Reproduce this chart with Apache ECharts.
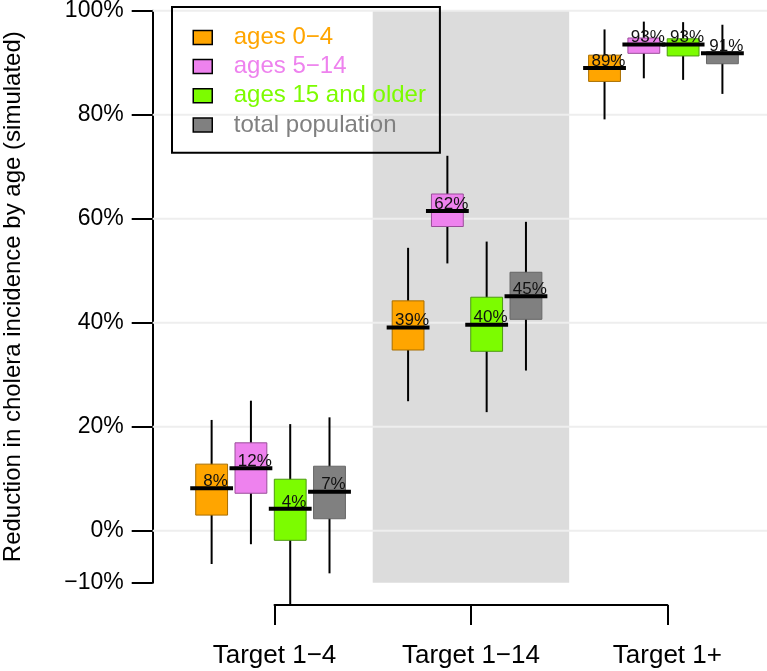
<!DOCTYPE html>
<html><head><meta charset="utf-8">
<script src="https://cdn.jsdelivr.net/npm/echarts@6/dist/echarts.min.js"></script>
<style>html,body{margin:0;padding:0;background:#fff}#c{width:767px;height:671px}</style>
</head><body><div id="c"></div>
<script>
// ---------------- data ----------------
const groups = ['Target 1\u22124', 'Target 1\u221214', 'Target 1+'];
const seriesNames = ['ages 0\u22124', 'ages 5\u221214', 'ages 15 and older', 'total population'];
const yTicks = [-10, 0, 20, 40, 60, 80, 100];
const gridValues = [0, 20, 40, 60, 80, 100];
const highlightedGroup = 1;
// per group: [lower whisker, Q1, median, Q3, upper whisker]  (percent)
const ages0to4   = [[-6.4, 3.0, 8.15, 12.8, 21.3], [24.9, 34.75, 39.1, 44.2, 54.4], [79.1, 86.4, 89.0, 91.45, 96.4]];
const ages5to14  = [[-2.6, 7.2, 12.0, 16.9, 25.0], [51.4, 58.5, 61.5, 64.75, 72.1], [87.0, 91.8, 93.5, 94.75, 97.9]];
const ages15plus = [[-14.3, -1.85, 4.2, 9.9, 20.5], [22.8, 34.5, 39.6, 44.9, 55.6], [86.7, 91.3, 93.5, 94.6, 97.8]];
const totalPop   = [[-8.2, 2.3, 7.5, 12.4, 21.8], [30.8, 40.65, 45.1, 49.7, 59.4], [84.0, 89.8, 91.8, 92.1, 97.3]];
const labels0to4   = ['8%', '39%', '89%'];
const labels5to14  = ['12%', '62%', '93%'];
const labels15plus = ['4%', '40%', '93%'];
const labelsTotal  = ['7%', '45%', '91%'];

// ---------------- styling / layout ----------------
const FONT = 'Liberation Sans, Arial, Helvetica, sans-serif';
const fills   = ['#FFA500', '#EE82EE', '#7CFC00', '#808080'];
const borders = ['#A86E00', '#9A4E9A', '#4C9A10', '#666666'];
const textCols = ['#FFA500', '#EE82EE', '#7CFC00', '#808080'];
const W = 767, L = 152.7, T = 10.7, B = 88.3;
const X0 = -0.5, X1 = 15.135;
const unit = (W - L) / (X1 - X0);
const GROUP_STEP = 5, LABEL_DX = 0.1, BOX_W = 0.81, MED_W = 1.09;
const axis2Left = L + (1 + 1.5 + LABEL_DX - X0) * unit;
const axis2Right = W - (L + (1 + 1.5 + LABEL_DX + 2 * GROUP_STEP - X0) * unit);

const allStats = [ages0to4, ages5to14, ages15plus, totalPop];
const allLabels = [labels0to4, labels5to14, labels15plus, labelsTotal];

function boxSeries(si) {
  const stats = allStats[si], labs = allLabels[si];
  return {
    name: seriesNames[si],
    type: 'custom',
    xAxisIndex: 0, yAxisIndex: 0,
    z: 3,
    clip: false,
    silent: true,
    itemStyle: { color: fills[si] },
    encode: { x: 0, y: [1, 2, 3, 4, 5] },
    data: stats.map((s, g) => [g * GROUP_STEP + si + 1].concat(s)),
    renderItem: function (params, api) {
      const x = api.value(0);
      const lo = api.coord([x, api.value(1)]);
      const q1 = api.coord([x, api.value(2)]);
      const md = api.coord([x, api.value(3)]);
      const q3 = api.coord([x, api.value(4)]);
      const hi = api.coord([x, api.value(5)]);
      const bw = api.size([BOX_W, 0])[0];
      const mw = api.size([MED_W, 0])[0];
      const lx = api.coord([x + LABEL_DX, 0])[0];
      return {
        type: 'group',
        children: [
          { type: 'line', shape: { x1: lo[0], y1: lo[1], x2: hi[0], y2: hi[1] }, style: { stroke: '#000', lineWidth: 2 } },
          { type: 'rect', shape: { x: q1[0] - bw / 2, y: q3[1], width: bw, height: q1[1] - q3[1] }, style: { fill: fills[si], stroke: borders[si], lineWidth: 1 } },
          { type: 'line', shape: { x1: md[0] - mw / 2, y1: md[1], x2: md[0] + mw / 2, y2: md[1] }, style: { stroke: '#000', lineWidth: 4 } },
          { type: 'text', x: lx, y: md[1] - 7, style: { text: labs[params.dataIndex], fontSize: 17, fontFamily: FONT, fill: '#111', align: 'center', verticalAlign: 'middle' } }
        ]
      };
    }
  };
}

const bandStart = highlightedGroup * GROUP_STEP + LABEL_DX;
const bandEnd = bandStart + GROUP_STEP;

const chart = echarts.init(document.getElementById('c'), null, { renderer: 'canvas' });
chart.setOption({
  animation: false,
  backgroundColor: '#fff',
  textStyle: { fontFamily: FONT },
  grid: [
    { left: L, right: 0, top: T, bottom: B, containLabel: false, outerBoundsMode: 'none' },
    { left: axis2Left, right: axis2Right, top: T, bottom: B, containLabel: false, outerBoundsMode: 'none' }
  ],
  xAxis: [
    { gridIndex: 0, type: 'value', min: X0, max: X1, show: false },
    {
      gridIndex: 1, type: 'value', min: 0, max: 2 * GROUP_STEP, interval: GROUP_STEP,
      position: 'bottom', offset: 22.3,
      axisLine: { show: true, onZero: false, lineStyle: { color: '#000', width: 2 } },
      axisTick: { show: true, length: 20, lineStyle: { color: '#000', width: 2 } },
      axisLabel: { fontSize: 26, color: '#000', margin: 38, fontFamily: FONT,
        formatter: v => groups[Math.round(v / GROUP_STEP)] },
      splitLine: { show: false }
    }
  ],
  yAxis: [
    {
      gridIndex: 0, type: 'value', min: -10, max: 100, position: 'left',
      name: 'Reduction in cholera incidence by age (simulated)',
      nameLocation: 'middle', nameGap: 127, nameRotate: 90,
      nameTextStyle: { fontSize: 24, color: '#000', fontFamily: FONT },
      axisLine: { show: true, onZero: false, lineStyle: { color: '#000', width: 2 } },
      axisTick: { show: true, length: 21, customValues: yTicks, lineStyle: { color: '#000', width: 2 } },
      axisLabel: { fontSize: 23, color: '#000', margin: 29, customValues: yTicks, fontFamily: FONT,
        formatter: v => String(v).replace('-', '\u2212') + '%' },
      splitLine: { show: false }
    },
    { gridIndex: 1, type: 'value', min: 0, max: 1, show: false }
  ],
  legend: {
    orient: 'vertical', left: 172, top: 7,
    padding: [15.8, 14, 13.2, 20.5],
    borderColor: '#000', borderWidth: 2,
    itemWidth: 19, itemHeight: 14, itemGap: 0,
    selectedMode: false,
    icon: 'rect',
    itemStyle: { borderColor: '#000', borderWidth: 1.5 },
    textStyle: { fontSize: 24, lineHeight: 29.2, fontFamily: FONT, padding: [0, 0, 0, 16.5] },
    data: seriesNames.map((n, i) => ({ name: n, textStyle: { color: textCols[i] } }))
  },
  series: [
    {
      name: 'band', type: 'custom', z: 1, silent: true, clip: false,
      xAxisIndex: 0, yAxisIndex: 0,
      encode: { x: [0, 1] },
      data: [[bandStart, bandEnd]],
      renderItem: function (params, api) {
        const a = api.coord([api.value(0), 100]);
        const b = api.coord([api.value(1), -10]);
        return { type: 'rect', shape: { x: a[0], y: a[1], width: b[0] - a[0], height: b[1] - a[1] }, style: { fill: '#DCDCDC' } };
      }
    },
    {
      name: 'grid', type: 'custom', z: 2, silent: true, clip: false,
      xAxisIndex: 0, yAxisIndex: 0,
      encode: { y: 0 },
      data: gridValues.map(v => [v]),
      renderItem: function (params, api) {
        const a = api.coord([X0, api.value(0)]);
        const b = api.coord([X1, api.value(0)]);
        return { type: 'line', shape: { x1: a[0], y1: a[1], x2: b[0], y2: b[1] }, style: { stroke: '#EEEEEE', lineWidth: 2 } };
      }
    },
    boxSeries(0), boxSeries(1), boxSeries(2), boxSeries(3)
  ]
});
</script>
</body></html>
